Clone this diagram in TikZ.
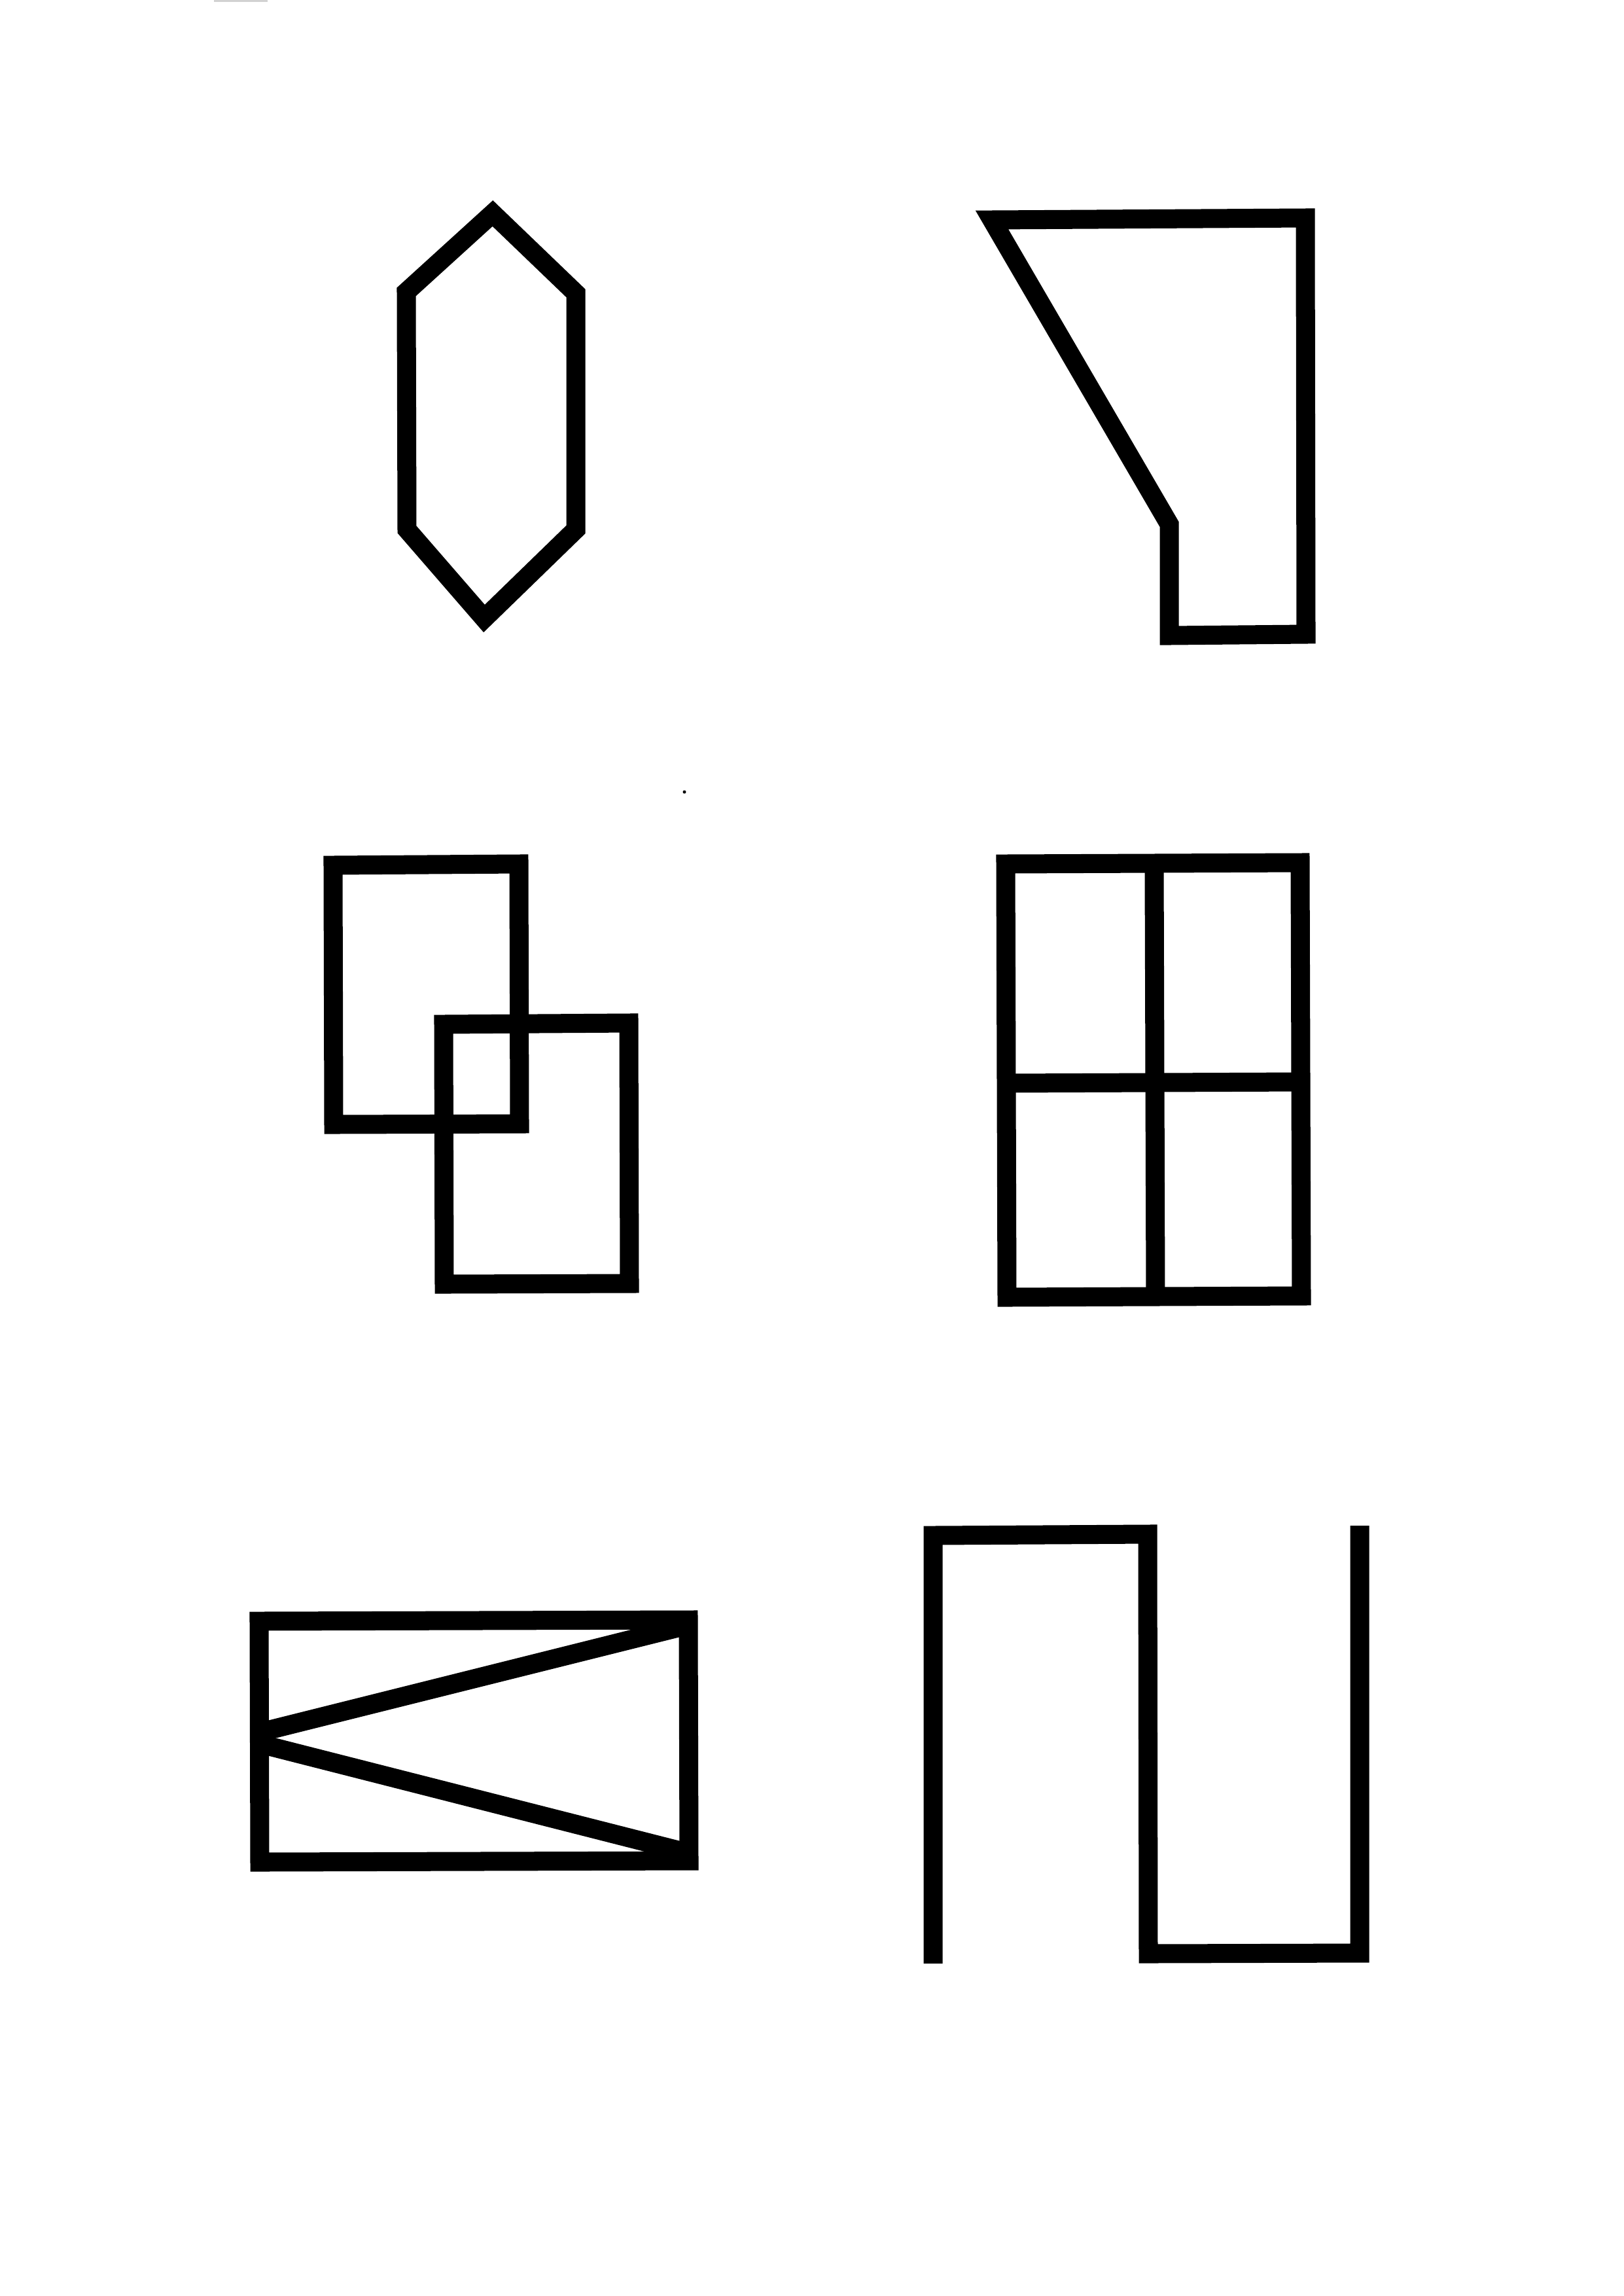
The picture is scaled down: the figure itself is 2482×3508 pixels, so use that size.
\documentclass[tikz,border=0pt]{standalone}
\begin{document}
\begin{tikzpicture}[x=0.01cm,y=-0.01cm,
  stroke/.style={line width=0.29cm, line join=miter, line cap=butt, black},
  speck/.style={fill=black}]
\useasboundingbox (0,0) rectangle (2482,3508);
\fill[white] (0,0) rectangle (2482,3508);
% scan artefacts
\draw[gray!35, line width=0.03cm] (327,1) -- (409,1);
\fill[speck] (1046,1210) circle (2.5);
\begin{scope}[shift={(-4,-6)}]
% hexagon
\draw[stroke,shift={(2,4)}] (755,328) -- (882,450) -- (882,811) -- (742,947) -- (624,811) -- (623,448) -- cycle;
% funnel shape
\draw[stroke,shift={(0,3)}] (1520,339) -- (1999,336) -- (2000,972) -- (1791,974) -- (1791,804) -- cycle;
% overlapping squares
\draw[stroke,shift={(2,2)}] (511,1326) -- (795,1324) -- (796,1721) -- (512,1722) -- cycle;
\draw[stroke,shift={(2,2)}] (680,1569) -- (963,1567) -- (964,1965) -- (681,1966) -- cycle;
% window grid
\draw[stroke] (1541,1326) -- (1991,1324) -- (1993,1986) -- (1543,1988) -- cycle;
\draw[stroke] (1768,1325) -- (1770,1987);
\draw[stroke] (1542,1661) -- (1992,1659);
% rectangle with diagonals
\draw[stroke] (400,2483) -- (1056,2481) -- (1057,2849) -- (401,2851) -- cycle;
\draw[stroke] (1056,2489) -- (400,2653);
\draw[stroke] (400,2670) -- (1056,2837);
% meander
\draw[stroke] (1430,3006) -- (1430,2352) -- (1758,2350) -- (1759,2991) -- (2082,2990) -- (2082,2337);
\end{scope}
\end{tikzpicture}
\end{document}
